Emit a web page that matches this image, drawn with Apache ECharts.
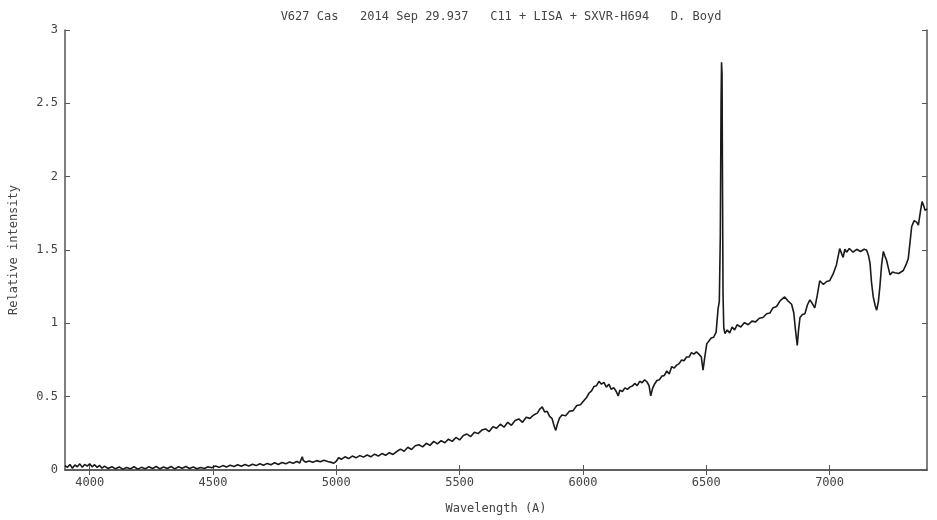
<!DOCTYPE html>
<html>
<head>
<meta charset="utf-8">
<script src="https://cdn.jsdelivr.net/npm/echarts@6/dist/echarts.min.js"></script>
<style>html,body{margin:0;padding:0;background:#fff}#c{width:937px;height:520px}</style>
</head>
<body>
<div id="c"></div>
<script>
var titleText = 'V627 Cas   2014 Sep 29.937   C11 + LISA + SXVR-H694   D. Boyd';
var xTicks = [4000, 4500, 5000, 5500, 6000, 6500, 7000];
var yTicks = [0, 0.5, 1, 1.5, 2, 2.5, 3];
var wavelength = [
3900,3910,3920,3930,3940,3950,3960,3970,3980,3990,4000,4010,4020,4030,4040,4050,4060,4075,4090,4105,
4120,4135,4150,4165,4180,4195,4210,4225,4240,4255,4270,4285,4300,4315,4330,4345,4360,4375,4390,4405,
4420,4435,4450,4465,4480,4495,4510,4525,4540,4555,4570,4585,4600,4615,4630,4645,4660,4675,4690,4705,
4720,4735,4750,4765,4780,4795,4810,4825,4840,4852,4858,4862,4866,4875,4890,4905,4920,4935,4950,4965,
4980,4990,5000,5010,5020,5035,5050,5065,5080,5095,5110,5125,5140,5155,5170,5185,5200,5215,5230,5245,
5260,5275,5290,5305,5320,5335,5350,5365,5380,5395,5410,5425,5440,5455,5470,5485,5500,5515,5530,5545,
5560,5575,5590,5605,5620,5635,5650,5665,5680,5695,5710,5725,5740,5755,5770,5785,5800,5815,5825,5835,
5845,5855,5865,5875,5884,5890,5896,5905,5915,5930,5945,5960,5975,5990,6005,6015,6025,6035,6045,6055,
6065,6075,6085,6095,6105,6115,6125,6135,6143,6150,6160,6170,6180,6190,6200,6210,6220,6230,6240,6250,
6260,6268,6275,6282,6290,6300,6310,6320,6330,6340,6350,6360,6370,6380,6390,6400,6410,6420,6430,6440,
6450,6460,6470,6480,6487,6494,6502,6510,6520,6530,6540,6548,6553,6557,6560,6562,6564,6566,6568,6571,
6576,6585,6595,6605,6615,6625,6640,6655,6670,6685,6700,6715,6730,6745,6758,6770,6785,6800,6818,6830,
6846,6855,6862,6869,6874,6880,6890,6900,6910,6920,6930,6940,6950,6960,6975,6988,7000,7014,7028,7041,
7050,7055,7062,7069,7080,7095,7110,7125,7140,7150,7158,7164,7170,7177,7185,7191,7198,7204,7211,7218,
7224,7231,7238,7245,7255,7265,7280,7299,7310,7319,7326,7333,7343,7353,7360,7364,7370,7375,7382,7387,7395
];
var intensity = [
0.03,0.018,0.038,0.012,0.034,0.022,0.042,0.018,0.038,0.026,0.043,0.022,0.036,0.018,0.032,0.012,0.026,0.01,0.022,0.008,
0.02,0.006,0.017,0.008,0.022,0.006,0.018,0.008,0.022,0.01,0.024,0.008,0.02,0.01,0.024,0.008,0.022,0.012,0.024,0.01,
0.02,0.008,0.017,0.01,0.022,0.016,0.027,0.018,0.03,0.02,0.033,0.024,0.036,0.026,0.038,0.028,0.039,0.03,0.043,0.033,
0.045,0.036,0.049,0.038,0.051,0.042,0.055,0.046,0.058,0.048,0.075,0.09,0.065,0.053,0.062,0.053,0.064,0.056,0.067,0.058,
0.052,0.046,0.06,0.085,0.072,0.09,0.078,0.095,0.083,0.098,0.088,0.102,0.09,0.108,0.095,0.112,0.1,0.118,0.106,0.126,
0.142,0.128,0.155,0.14,0.165,0.172,0.158,0.182,0.168,0.195,0.178,0.2,0.186,0.21,0.195,0.222,0.205,0.235,0.245,0.228,
0.258,0.248,0.272,0.28,0.262,0.295,0.285,0.312,0.292,0.325,0.305,0.338,0.348,0.325,0.36,0.352,0.375,0.388,0.415,0.43,
0.395,0.4,0.365,0.35,0.295,0.27,0.31,0.355,0.375,0.37,0.4,0.405,0.44,0.445,0.475,0.495,0.525,0.54,0.57,0.575,
0.605,0.585,0.598,0.565,0.585,0.55,0.562,0.535,0.505,0.545,0.535,0.56,0.55,0.565,0.572,0.59,0.575,0.605,0.595,0.615,
0.6,0.575,0.505,0.555,0.585,0.61,0.615,0.64,0.645,0.675,0.655,0.705,0.695,0.715,0.725,0.75,0.745,0.77,0.77,0.8,
0.79,0.805,0.79,0.77,0.68,0.77,0.86,0.85,0.9,0.905,0.94,1.1,1.15,1.6,2.5,2.78,2.7,1.9,1.2,0.97,
0.93,0.955,0.935,0.975,0.955,0.99,0.975,1.005,0.99,1.015,1.01,1.035,1.04,1.065,1.07,1.105,1.115,1.155,1.18,1.155,
1.13,1.07,0.95,0.85,0.95,1.04,1.06,1.065,1.125,1.16,1.135,1.105,1.19,1.29,1.265,1.285,1.29,1.335,1.4,1.51,
1.47,1.45,1.505,1.485,1.51,1.485,1.505,1.49,1.505,1.5,1.46,1.41,1.28,1.18,1.12,1.09,1.15,1.25,1.4,1.49,
1.46,1.43,1.38,1.33,1.35,1.345,1.34,1.36,1.4,1.44,1.55,1.66,1.7,1.69,1.67,1.66,1.78,1.83,1.8,1.77,1.78
];

var points = wavelength.map(function (w, i) { return [w, intensity[i]]; });
var font = 'DejaVu Sans Mono';
var frameColor = '#555';
var textColor = '#444';

var chart = echarts.init(document.getElementById('c'), null, {renderer: 'canvas'});
chart.setOption({
  animation: false,
  backgroundColor: '#fff',
  title: {
    text: titleText,
    left: 496, top: 6, textAlign: 'center',
    textStyle: {fontFamily: font, fontSize: 12, fontWeight: 'normal', color: textColor}
  },
  grid: {left: 65, right: 10, top: 30, bottom: 50, containLabel: false},
  xAxis: [{
    type: 'value', min: 3900, max: 7395, position: 'bottom',
    name: 'Wavelength (A)', nameLocation: 'middle', nameGap: 33,
    nameTextStyle: {fontFamily: font, fontSize: 12, color: textColor},
    axisLine: {show: true, lineStyle: {color: frameColor, width: 1.5}},
    axisTick: {show: true, inside: true, length: 5, customValues: xTicks, lineStyle: {color: frameColor}},
    axisLabel: {customValues: xTicks, formatter: function (v) { return String(v); },
      fontFamily: font, fontSize: 12, color: textColor, margin: 7},
    splitLine: {show: false}
  }, {
    type: 'value', min: 3900, max: 7395, position: 'top',
    axisLine: {show: true, lineStyle: {color: frameColor, width: 1.5}},
    axisTick: {show: true, inside: true, length: 5, customValues: xTicks, lineStyle: {color: frameColor}},
    axisLabel: {show: false},
    splitLine: {show: false}
  }],
  yAxis: [{
    type: 'value', min: 0, max: 3, interval: 0.5, position: 'left',
    name: 'Relative intensity', nameLocation: 'middle', nameGap: 45, nameRotate: 90,
    nameTextStyle: {fontFamily: font, fontSize: 12, color: textColor},
    axisLine: {show: true, lineStyle: {color: frameColor, width: 1.5}},
    axisTick: {show: true, inside: true, length: 5, lineStyle: {color: frameColor}},
    axisLabel: {fontFamily: font, fontSize: 12, color: textColor, margin: 7},
    splitLine: {show: false}
  }, {
    type: 'value', min: 0, max: 3, interval: 0.5, position: 'right',
    axisLine: {show: true, lineStyle: {color: frameColor, width: 1.5}},
    axisTick: {show: true, inside: true, length: 5, lineStyle: {color: frameColor}},
    axisLabel: {show: false},
    splitLine: {show: false}
  }],
  series: [{
    type: 'line',
    data: points,
    xAxisIndex: 0, yAxisIndex: 0,
    showSymbol: false,
    lineStyle: {color: '#1a1a1a', width: 1.6},
    clip: true
  }]
});
</script>
</body>
</html>
